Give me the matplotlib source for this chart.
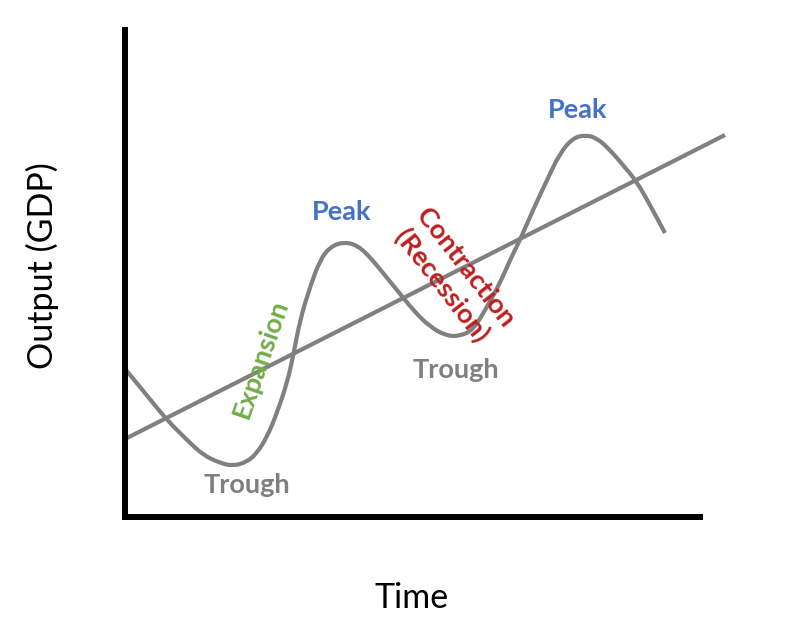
import matplotlib
matplotlib.use("Agg")
import matplotlib.pyplot as plt
from matplotlib.path import Path
from matplotlib.patches import PathPatch

# Business cycle curve (arbitrary units)
time = [1, 15, 28, 42, 62, 78, 95, 108, 122, 132, 142, 152, 162, 168, 175, 185,
        195, 205, 218, 232, 245, 258, 272, 288, 305, 322, 335, 348, 362, 375,
        385, 395, 408, 422, 435, 448, 460, 472, 485, 498, 512, 525, 540]
output = [147, 130, 114, 97, 77, 62, 54, 51, 55, 64, 80, 104, 134, 160, 197, 230,
          257, 270, 275, 272, 260, 244, 227, 207, 190, 181, 181, 187, 210, 234,
          257, 277, 307, 337, 364, 379, 382, 379, 367, 352, 335, 312, 284]

# Long-run trend line
trend_time = [2, 600]
trend_output = [79, 382]

# Annotations: (text, x, y, colour, rotation)
labels = [
    ("Trough", 122, 32, "#7f7f7f", 0),
    ("Peak", 217, 305, "#4472c4", 0),
    ("Trough", 331, 147, "#7f7f7f", 0),
    ("Peak", 453, 407, "#4472c4", 0),
    ("Expansion", 136, 158, "#70ad47", 71),
    ("Contraction\n(Recession)", 328, 240, "#bf1e1e", -52),
]

fig = plt.figure(figsize=(7.86, 6.3), dpi=100)
ax = fig.add_axes([125 / 786, 113 / 630, 575 / 786, 487 / 630])

ax.plot(trend_time, trend_output, color="#808080", lw=3, clip_on=False,
        solid_capstyle="butt")

# smooth the read points with quadratic segments (points act as controls)
pts = list(zip(time, output))
verts = [pts[0], ((pts[0][0] + pts[1][0]) / 2, (pts[0][1] + pts[1][1]) / 2)]
codes = [Path.MOVETO, Path.LINETO]
for i in range(1, len(pts) - 1):
    nxt = pts[i + 1]
    mid = ((pts[i][0] + nxt[0]) / 2, (pts[i][1] + nxt[1]) / 2)
    verts += [pts[i], mid]
    codes += [Path.CURVE3, Path.CURVE3]
verts.append(pts[-1])
codes.append(Path.LINETO)
ax.add_patch(PathPatch(Path(verts, codes), facecolor="none", edgecolor="#808080",
                       lw=3, capstyle="butt", joinstyle="round", clip_on=False))

for text, x, y, col, rot in labels:
    ax.text(x, y, text, color=col, fontsize=19.5, fontweight="bold",
            family="Lato", ha="center", va="center", rotation=rot,
            rotation_mode="anchor", linespacing=1.25, zorder=5)

ax.set_xlim(0, 575)
ax.set_ylim(0, 487)
ax.set_xticks([])
ax.set_yticks([])
for side in ("top", "right"):
    ax.spines[side].set_visible(False)
for side in ("left", "bottom"):
    ax.spines[side].set_linewidth(4.3)
    ax.spines[side].set_color("black")

fig.text(412 / 786, 1 - 598 / 630, "Time", fontsize=24.5, family="Lato",
         ha="center", va="center")
fig.text(42 / 786, 1 - 266 / 630, "Output (GDP)", fontsize=24.5, family="Lato",
         ha="center", va="center", rotation=90)

fig.savefig("out.png", dpi=100)
